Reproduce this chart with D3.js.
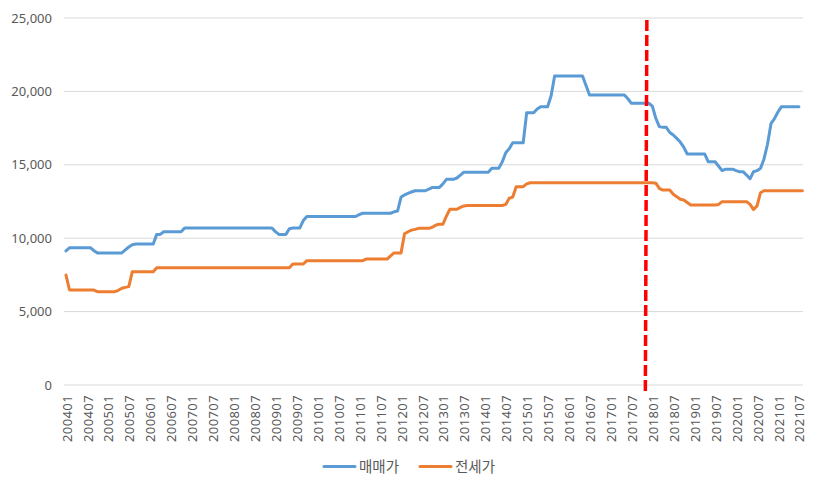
<!DOCTYPE html>
<html>
<head>
<meta charset="utf-8">
<script src="https://cdn.jsdelivr.net/npm/d3@7"></script>
<style>
  html, body { margin: 0; padding: 0; background: #fff; }
  svg { display: block; font-family: "Noto Sans CJK KR", "Noto Sans", sans-serif; }
</style>
</head>
<body>
<svg id="chart" width="818" height="484"></svg>
<script>
// ---- data ----
const startYear = 2004, startMonth = 1, monthCount = 212;
const categories = [];
for (let i = 0; i < monthCount; i++) {
  const y = startYear + Math.floor((startMonth - 1 + i) / 12);
  const m = (startMonth - 1 + i) % 12 + 1;
  categories.push(String(y) + String(m).padStart(2, "0"));
}
const tickLabels = ["200401","200407","200501","200507","200601","200607","200701","200707",
  "200801","200807","200901","200907","201001","201007","201101","201107","201201","201207",
  "201301","201307","201401","201407","201501","201507","201601","201607","201701","201707",
  "201801","201807","201901","201907","202001","202007","202101","202107"];
const yTicks = [0, 5000, 10000, 15000, 20000, 25000];
const seriesNames = ["매매가", "전세가"];

const saleValues = [
  9130,9350,9350,9350,9350,9350,9350,9350,9150,9000,9000,9000,9000,9000,9000,9000,9000,9200,9400,9550,
  9600,9600,9600,9600,9600,9600,10260,10260,10440,10440,10440,10440,10440,10440,10700,
  10700,10700,10700,10700,10700,10700,10700,10700,10700,10700,10700,10700,10700,10700,10700,10700,10700,10700,10700,10700,10700,10700,10700,10700,10700,
  10450,10260,10260,10260,10650,10700,10700,10700,11200,11480,
  11480,11480,11480,11480,11480,11480,11480,11480,11480,11480,11480,11480,11480,11480,
  11600,11700,
  11700,11700,11700,11700,11700,11700,11700,11700,
  11800,11850,12800,12950,13050,13150,13230,13230,13230,13230,13350,13460,13460,13460,13700,14010,14010,14010,14100,14300,14500,
  14500,14500,14500,14500,14500,14500,14500,
  14760,14760,14760,15200,15820,16100,16500,16500,16500,16500,18550,18550,18550,18800,18960,18960,18960,19700,21050,
  21050,21050,21050,21050,21050,21050,21050,21050,
  20400,19750,
  19750,19750,19750,19750,19750,19750,19750,19750,19750,19750,
  19500,19190,
  19190,19190,19190,19190,19190,
  19000,18170,17600,17550,17550,17200,17030,16800,16550,16200,15740,
  15740,15740,15740,15740,15740,
  15210,15210,15210,14900,14600,14700,14700,14700,14600,14530,14530,14300,14050,14530,14600,14760,15400,16400,17800,18150,18600,18960,
  18960,18960,18960,18960,18960
];
const jeonseValues = [
  7490,6470,
  6470,6470,6470,6470,6470,6470,6470,
  6360,
  6360,6360,6360,6360,6360,
  6450,6590,6650,6700,7720,
  7720,7720,7720,7720,7720,7720,
  7990,
  7990,7990,7990,7990,7990,7990,7990,7990,7990,7990,7990,7990,7990,7990,7990,7990,7990,7990,7990,
  7990,7990,7990,7990,7990,7990,7990,7990,7990,7990,7990,7990,7990,7990,7990,7990,7990,7990,7990,
  8240,8240,8240,8240,8470,
  8470,8470,8470,8470,8470,8470,8470,8470,8470,8470,8470,8470,8470,8470,8470,8470,
  8580,
  8580,8580,8580,8580,8580,8580,
  8800,9000,9000,9000,10300,10440,10550,10600,10670,
  10670,10670,10670,
  10750,10900,10950,10950,11500,11970,11970,11970,12100,12200,
  12230,12230,12230,12230,12230,12230,12230,12230,12230,12230,12230,
  12300,12720,12800,13510,13510,13510,13700,13780,
  13780,13780,13780,13780,13780,13780,13780,13780,13780,13780,13780,13780,13780,13780,13780,13780,13780,13780,
  13780,13780,13780,13780,13780,13780,13780,13780,13780,13780,13780,13780,13780,13780,13780,13780,13780,
  13750,13400,13280,13280,13280,13000,12830,12650,12600,12430,12260,
  12260,12260,12260,12260,12260,12260,12260,
  12300,12490,
  12490,12490,12490,12490,12490,12490,12490,
  12300,11950,12200,13100,13230,
  13230,13230,13230,13230,13230,13230,13230,13230,13230,13230,13230
];
const markerCategory = "201711";

// ---- chart ----
const svg = d3.select("#chart");
const plotLeft = 64, plotRight = 803, plotTop = 18, plotBottom = 385;

const x = d3.scalePoint().domain(categories).range([66, 802.4]);
const y = d3.scaleLinear().domain([0, 25000]).range([plotBottom, plotTop]);

// gridlines
svg.append("g").selectAll("line").data(yTicks).join("line")
  .attr("x1", plotLeft).attr("x2", plotRight)
  .attr("y1", d => y(d)).attr("y2", d => y(d))
  .attr("stroke", "#d9d9d9").attr("stroke-width", 1);

// y axis labels
const yAxis = d3.axisLeft(y).tickValues(yTicks).tickFormat(d3.format(",")).tickSize(0).tickPadding(0);
const gy = svg.append("g").attr("transform", `translate(${plotLeft - 12},0)`).call(yAxis);
gy.select(".domain").remove();
gy.selectAll("text").attr("fill", "#595959").attr("font-size", "13px")
  .attr("font-family", "'Noto Sans', sans-serif");

// x axis labels
const xAxis = d3.axisBottom(x).tickValues(tickLabels).tickSize(0).tickPadding(0);
const gx = svg.append("g").attr("transform", `translate(0,${plotBottom})`).call(xAxis);
gx.select(".domain").remove();
gx.selectAll("text")
  .attr("fill", "#595959").attr("font-size", "13px")
  .attr("font-family", "'Noto Sans', sans-serif")
  .attr("letter-spacing", "0.4px")
  .attr("transform", "rotate(-90)")
  .attr("text-anchor", "end")
  .attr("x", -10).attr("y", 0.5).attr("dy", "0.35em");

// lines
const line = d3.line().x((d, i) => x(categories[i])).y(d => y(d));
svg.append("path").datum(saleValues).attr("d", line)
  .attr("fill", "none").attr("stroke", "#5b9bd5").attr("stroke-width", 3)
  .attr("stroke-linejoin", "round").attr("stroke-linecap", "round");
svg.append("path").datum(jeonseValues).attr("d", line)
  .attr("fill", "none").attr("stroke", "#ed7d31").attr("stroke-width", 3)
  .attr("stroke-linejoin", "round").attr("stroke-linecap", "round");

// red dashed marker
const mx = x(markerCategory);
svg.append("line")
  .attr("x1", mx + 1.5).attr("x2", mx)
  .attr("y1", plotTop + 2).attr("y2", plotBottom + 7)
  .attr("stroke", "#ff0000").attr("stroke-width", 3.5)
  .attr("stroke-dasharray", "11,4");

// legend
const legend = svg.append("g").attr("transform", "translate(0,466.5)");
const legendItems = [
  { name: seriesNames[0], color: "#5b9bd5", x: 324 },
  { name: seriesNames[1], color: "#ed7d31", x: 420 }
];
legendItems.forEach(it => {
  legend.append("line").attr("x1", it.x).attr("x2", it.x + 31).attr("y1", 0).attr("y2", 0)
    .attr("stroke", it.color).attr("stroke-width", 3).attr("stroke-linecap", "round");
  legend.append("text").attr("x", it.x + 35).attr("y", 0).attr("dy", "0.35em")
    .attr("fill", "#595959").attr("font-size", "14.5px").text(it.name);
});
</script>
</body>
</html>
